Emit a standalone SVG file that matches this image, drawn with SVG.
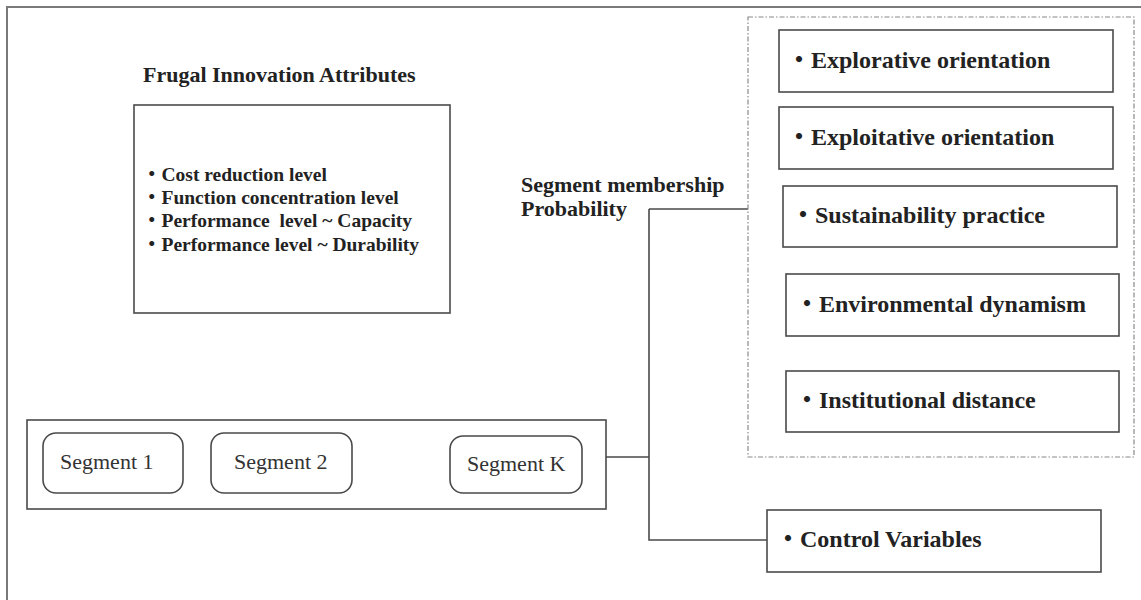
<svg xmlns="http://www.w3.org/2000/svg" width="1141" height="600" viewBox="0 0 1141 600">
<style>
.frame{fill:none;stroke:#7a7a7a;stroke-width:2}
.box{fill:#fff;stroke:#4a4a4a;stroke-width:1.6}
.seg{fill:#fff;stroke:#4a4a4a;stroke-width:1.6}
.dash{fill:none;stroke:#8a8a8a;stroke-width:1.2;stroke-dasharray:5 2 1.5 2}
.conn{fill:none;stroke:#4a4a4a;stroke-width:1.6}
.t{font-family:"Liberation Serif","Noto Sans CJK JP",serif;font-weight:bold;fill:#222}
.t24{font-size:24px}
.t22{font-size:22px}
.t19{font-size:19.5px}
.s{font-family:"Liberation Serif",serif;font-size:22px;fill:#333}
</style>
<rect width="1141" height="600" fill="#fff"/>
<path class="frame" d="M7,610 V7 H1150"/>

<g id="frugal">
<text class="t t22" x="143" y="82">Frugal Innovation Attributes</text>
<rect class="box" x="134" y="105" width="316" height="208"/>
<text class="t t19" x="142" y="181">・Cost reduction level</text>
<text class="t t19" x="142" y="204">・Function concentration level</text>
<text class="t t19" x="142" y="227" style="white-space:pre">・Performance  level ~ Capacity</text>
<text class="t t19" x="142" y="251">・Performance level ~ Durability</text>
</g>

<g id="segments">
<rect class="box" x="27" y="420" width="579" height="89"/>
<g id="seg1"><rect class="seg" x="43" y="433" width="140" height="60" rx="13"/><text class="s" x="60" y="469">Segment 1</text></g>
<g id="seg2"><rect class="seg" x="211" y="433" width="141" height="60" rx="13"/><text class="s" x="234" y="469">Segment 2</text></g>
<g id="segK"><rect class="seg" x="450" y="436" width="132" height="57" rx="13"/><text class="s" x="467" y="471">Segment K</text></g>
</g>

<g id="label">
<text class="t t22" x="521" y="192">Segment membership</text>
<text class="t t22" x="521" y="216">Probability</text>
</g>

<g id="connectors">
<path class="conn" d="M606,457 H649 M649,209 V540 H767 M649,209 H748"/>
</g>

<g id="covariates">
<rect class="dash" x="748" y="17" width="386" height="440"/>
<g id="explorative"><rect class="box" x="779" y="30" width="334" height="62"/><text class="t t24" x="787" y="68">・Explorative orientation</text></g>
<g id="exploitative"><rect class="box" x="779" y="107" width="334" height="62"/><text class="t t24" x="787" y="145">・Exploitative orientation</text></g>
<g id="sustainability"><rect class="box" x="783" y="186" width="334" height="61"/><text class="t t24" x="791" y="223">・Sustainability practice</text></g>
<g id="environmental"><rect class="box" x="786" y="274" width="333" height="62"/><text class="t t24" x="795" y="312">・Environmental dynamism</text></g>
<g id="institutional"><rect class="box" x="786" y="371" width="333" height="61"/><text class="t t24" x="795" y="408">・Institutional distance</text></g>
</g>

<g id="control">
<rect class="box" x="767" y="510" width="334" height="62"/>
<text class="t t24" x="776" y="547">・Control Variables</text>
</g>
</svg>
